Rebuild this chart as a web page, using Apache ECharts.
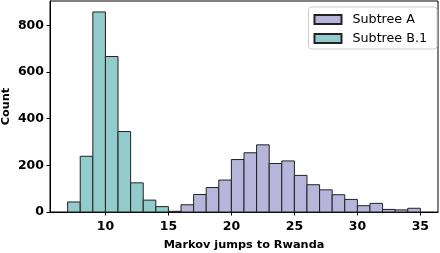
<!DOCTYPE html>
<html>
<head>
<meta charset="utf-8">
<script src="https://cdn.jsdelivr.net/npm/echarts@6/dist/echarts.min.js"></script>
<style>
  html, body { margin: 0; padding: 0; background: #fff; }
  #main { width: 440px; height: 253px; }
</style>
</head>
<body>
<div id="main"></div>
<script>
// bin left edges (width 1) and counts
var binsA = [16, 17, 18, 19, 20, 21, 22, 23, 24, 25, 26, 27, 28, 29, 30, 31, 32, 33, 34];
var countsA = [31, 75, 105, 137, 225, 254, 288, 208, 219, 157, 117, 95, 74, 54, 27, 37, 11, 9, 16];
var binsB = [7, 8, 9, 10, 11, 12, 13, 14, 15];
var countsB = [43, 239, 858, 667, 345, 125, 51, 23, 3];
var xTicks = [10, 15, 20, 25, 30, 35];
var yTicks = [0, 200, 400, 600, 800];

var colorA = '#b6b6da';
var colorB = '#92cbcb';
var edge = '#222';
var font = 'DejaVu Sans';

function toData(bins, counts) {
  return bins.map(function (b, i) { return [b, b + 1, counts[i]]; });
}

function renderBin(params, api) {
  var top = api.coord([api.value(0), api.value(2)]);
  var bot = api.coord([api.value(1), 0]);
  return {
    type: 'rect',
    shape: { x: top[0], y: top[1], width: bot[0] - top[0], height: bot[1] - top[1] },
    style: { fill: api.visual('color'), stroke: edge, lineWidth: 1 }
  };
}

var chart = echarts.init(document.getElementById('main'), null, { renderer: 'canvas' });

var option = {
  animation: false,
  grid: {
    left: 50, right: 2, top: 1, bottom: 41,
    outerBoundsMode: 'none',
    show: true, borderColor: '#000', borderWidth: 1
  },
  legend: {
    orient: 'vertical',
    right: 3, top: 7,
    padding: [5, 10, 3, 5],
    itemWidth: 27, itemHeight: 9, itemGap: 4,
    backgroundColor: '#fff',
    borderColor: '#ccc', borderWidth: 1, borderRadius: 3,
    textStyle: { fontFamily: font, fontSize: 12.7, lineHeight: 15, color: '#000', padding: [0, 0, 0, 6] },
    data: [
      { name: 'Subtree A', icon: 'rect' },
      { name: 'Subtree B.1', icon: 'rect' }
    ]
  },
  xAxis: {
    type: 'value',
    min: 5.6, max: 36.4,
    name: 'Markov jumps to Rwanda',
    nameLocation: 'middle',
    nameGap: 28,
    nameTextStyle: { fontFamily: font, fontSize: 11.3, fontWeight: 'bold', color: '#000' },
    axisLine: { show: true, lineStyle: { color: '#000', width: 1 } },
    axisTick: { show: true, length: 3.5, lineStyle: { color: '#000' }, customValues: xTicks },
    axisLabel: { fontFamily: font, fontSize: 12.5, fontWeight: 'bold', color: '#000', margin: 8, customValues: xTicks },
    splitLine: { show: false }
  },
  yAxis: {
    type: 'value',
    min: 0, max: 905,
    name: 'Count',
    nameLocation: 'middle',
    nameGap: 38,
    nameMoveOverlap: false,
    nameTextStyle: { fontFamily: font, fontSize: 11.3, fontWeight: 'bold', color: '#000' },
    axisLine: { show: true, lineStyle: { color: '#000', width: 1 } },
    axisTick: { show: true, length: 3.5, lineStyle: { color: '#000' }, customValues: yTicks },
    axisLabel: { fontFamily: font, fontSize: 12.5, fontWeight: 'bold', color: '#000', margin: 6, customValues: yTicks },
    splitLine: { show: false }
  },
  series: [
    {
      name: 'Subtree A',
      type: 'custom',
      renderItem: renderBin,
      itemStyle: { color: colorA, borderColor: edge, borderWidth: 1 },
      encode: { x: [0, 1], y: 2 },
      data: toData(binsA, countsA)
    },
    {
      name: 'Subtree B.1',
      type: 'custom',
      renderItem: renderBin,
      itemStyle: { color: colorB, borderColor: edge, borderWidth: 1 },
      encode: { x: [0, 1], y: 2 },
      data: toData(binsB, countsB)
    }
  ]
};
chart.setOption(option);
</script>
</body>
</html>
